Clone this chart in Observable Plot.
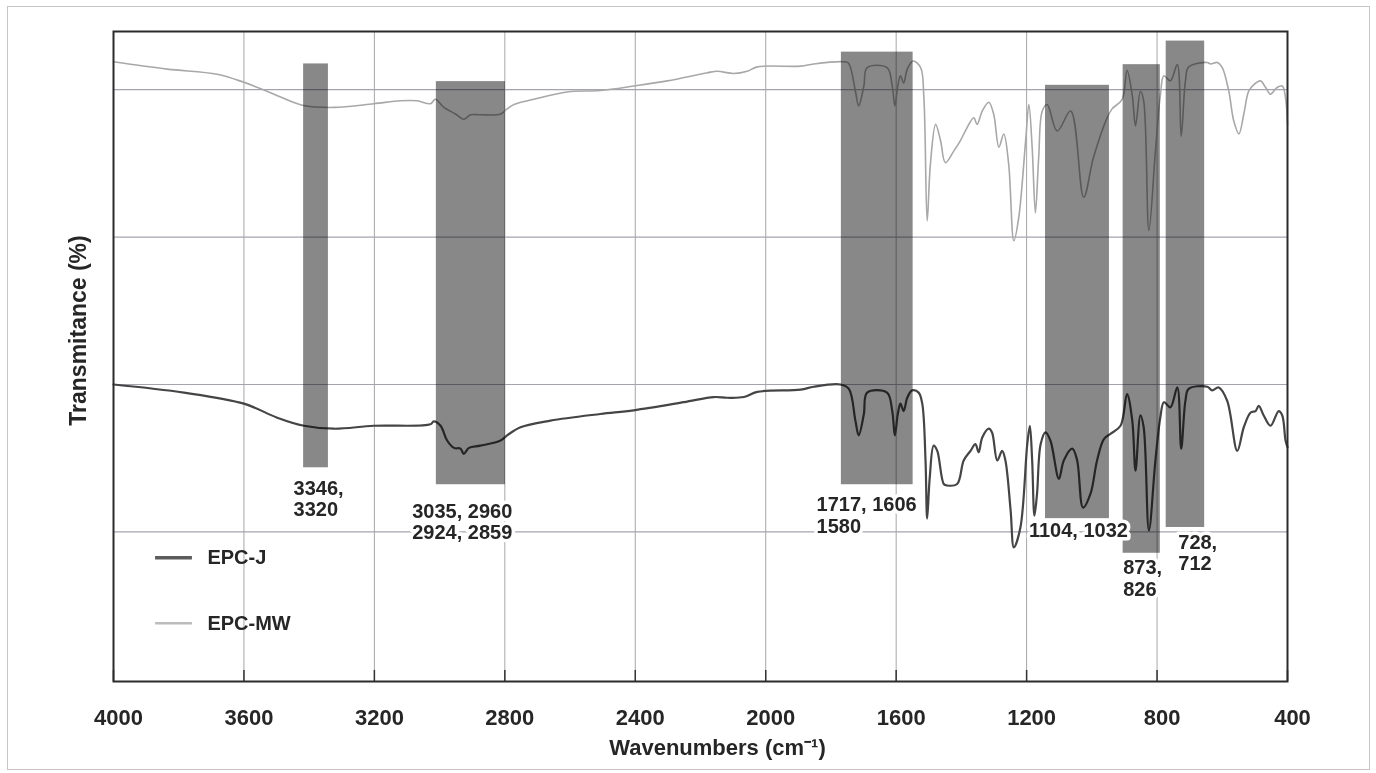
<!DOCTYPE html>
<html>
<head>
<meta charset="utf-8">
<script src="https://cdn.jsdelivr.net/npm/d3@7"></script>
<script src="https://cdn.jsdelivr.net/npm/@observablehq/plot@0.6"></script>
<style>
  html, body { margin: 0; padding: 0; background: #fff; }
  #wrap { position: relative; width: 1376px; height: 773px; overflow: hidden; }
  #wrap svg { position: absolute; left: 0; top: 0; }
  #border { position: absolute; left: 7px; top: 6px; width: 1361px; height: 762px;
            border: 1px solid #c6c6c6; pointer-events: none; z-index: 2; }
</style>
</head>
<body>
<div id="wrap"><div id="border"></div></div>
<script>
// FTIR spectra (wavenumber in cm-1, transmittance offset per sample)
const epcJWave = [4000, 3784, 3600, 3498, 3416, 3324, 3202, 3028, 3018, 2997, 2977, 2956, 2936, 2926, 2910, 2875, 2813, 2793, 2752, 2660, 2507, 2405, 2251, 2159, 2118, 2067, 2026, 1893, 1853, 1771, 1745, 1725, 1715, 1699, 1689, 1628, 1612, 1604, 1595, 1587, 1577, 1566, 1551, 1531, 1520, 1510, 1505, 1497, 1485, 1474, 1454, 1444, 1413, 1393, 1372, 1357, 1347, 1336, 1316, 1306, 1290, 1275, 1265, 1249, 1239, 1219, 1198, 1190, 1183, 1176, 1168, 1157, 1142, 1127, 1101, 1086, 1060, 1045, 1027, 1004, 984, 963, 943, 912, 892, 876, 866, 851, 841, 825, 805, 790, 779, 759, 738, 726, 713, 703, 646, 631, 611, 585, 554, 534, 513, 498, 488, 473, 452, 427, 416, 406, 400];
const epcJValue = [40.0, 38.9, 37.4, 35.5, 34.4, 34.0, 34.4, 34.6, 35.0, 34.4, 32.4, 31.4, 31.3, 30.6, 31.4, 31.7, 32.4, 33.1, 34.2, 35.1, 36.0, 36.5, 37.6, 38.3, 38.2, 38.3, 39.0, 39.3, 39.7, 40.0, 39.4, 35.1, 33.1, 36.0, 38.9, 38.9, 36.4, 33.1, 36.0, 37.4, 36.4, 38.2, 39.2, 38.9, 37.4, 29.7, 21.8, 27.4, 31.7, 31.0, 26.5, 26.3, 26.5, 29.7, 31.0, 31.9, 30.8, 32.8, 34.0, 33.5, 29.7, 31.0, 29.7, 22.9, 17.9, 20.6, 31.9, 34.4, 29.7, 22.2, 25.2, 31.9, 33.5, 32.4, 27.2, 29.7, 31.3, 29.7, 23.3, 25.2, 29.7, 32.6, 33.3, 34.4, 38.7, 35.1, 28.3, 35.8, 34.2, 20.2, 29.7, 35.5, 37.6, 36.9, 39.6, 31.3, 37.8, 39.4, 39.7, 39.2, 39.6, 37.8, 31.0, 34.2, 36.2, 36.4, 37.1, 35.8, 34.4, 36.4, 35.8, 32.4, 31.5];

const epcMWWave = [4000, 3835, 3682, 3600, 3519, 3421, 3324, 3202, 3120, 3069, 3028, 3013, 2987, 2951, 2926, 2905, 2875, 2813, 2793, 2772, 2711, 2609, 2507, 2405, 2302, 2179, 2149, 2098, 2057, 2026, 1893, 1853, 1761, 1746, 1725, 1715, 1699, 1689, 1628, 1612, 1604, 1595, 1587, 1577, 1566, 1548, 1525, 1515, 1505, 1495, 1479, 1464, 1449, 1423, 1403, 1382, 1362, 1352, 1336, 1316, 1301, 1285, 1270, 1255, 1239, 1224, 1203, 1193, 1183, 1173, 1163, 1152, 1137, 1106, 1065, 1025, 995, 953, 938, 907, 892, 876, 866, 851, 841, 825, 805, 790, 779, 759, 738, 726, 713, 703, 646, 636, 615, 600, 580, 565, 549, 534, 519, 503, 483, 467, 452, 432, 416, 406, 400];
const epcMWValue = [83.8, 82.8, 82.1, 81.0, 79.6, 77.9, 77.6, 78.1, 78.5, 78.5, 78.1, 78.7, 77.6, 76.7, 76.0, 76.6, 76.6, 76.7, 77.4, 78.0, 78.7, 79.7, 79.9, 80.5, 81.2, 82.3, 82.5, 82.2, 82.5, 83.1, 83.2, 83.5, 83.8, 83.6, 79.8, 77.8, 80.5, 83.0, 83.0, 80.5, 77.8, 80.5, 81.9, 80.9, 82.8, 83.9, 83.0, 78.9, 62.2, 69.9, 75.3, 73.1, 70.1, 71.7, 73.1, 74.9, 76.2, 75.3, 77.1, 78.3, 76.7, 72.2, 74.0, 69.9, 59.5, 62.7, 73.1, 78.0, 72.2, 63.3, 70.8, 77.1, 78.0, 74.4, 77.1, 65.4, 70.8, 76.2, 77.4, 78.7, 82.6, 79.2, 75.1, 79.8, 78.5, 60.9, 71.7, 79.2, 81.9, 81.2, 83.4, 73.7, 81.2, 83.1, 83.7, 83.5, 83.7, 83.0, 79.8, 75.8, 74.0, 76.7, 79.8, 80.7, 81.2, 80.3, 79.4, 80.3, 80.5, 78.9, 75.3];

// Shaded absorption bands
const bandFrom   = [3417, 3010, 1768, 1142, 904, 772];
const bandTo     = [3341, 2798, 1548, 946, 790, 654];
const bandTop    = [83.5, 81.1, 85.1, 80.6, 83.4, 86.6];
const bandBottom = [28.7, 26.4, 26.4, 21.8, 17.1, 20.6];

// Peak assignments written under the bands
const peakText  = ["3346,\n3320", "3035, 2960\n2924, 2859", "1717, 1606\n1580", "1104, 1032", "873,\n826", "728,\n712"];
const peakWave  = [3448, 3084, 1844, 1193, 904, 735];
const peakLevel = [24.5, 21.4, 22.3, 20.3, 13.7, 17.2];

// Axes and grid
const xTicks = [4000, 3600, 3200, 2800, 2400, 2000, 1600, 1200, 800, 400];
const yGrid = [20, 40, 60, 80];
const yDomain = [-0.3, 87.9];

// Legend
const legendNames = ["EPC-J", "EPC-MW"];
const legendLevel = [16.5, 7.6];
const legendSwatch = [3871, 3758];
const legendTextAt = 3712;

const toRows = (w, v) => w.map((x, i) => ({wave: x, t: v[i]}));
const jRows = toRows(epcJWave, epcJValue);
const mwRows = toRows(epcMWWave, epcMWValue);
const bands = bandFrom.map((a, i) => ({a, b: bandTo[i], lo: bandBottom[i], hi: bandTop[i]}));
const peaks = peakText.map((s, i) => ({s, w: peakWave[i], t: peakLevel[i]}));

const font = "'Liberation Sans', Arial, Helvetica, sans-serif";
const ink = "#262626";

const chart = Plot.plot({
  width: 1376,
  height: 773,
  marginLeft: 113,
  marginRight: 89,
  marginTop: 31,
  marginBottom: 92,
  x: {domain: [4000, 400]},
  y: {domain: yDomain, axis: null},
  style: {fontFamily: font, background: "transparent", overflow: "visible"},
  marks: [
    Plot.ruleX(xTicks.slice(1, -1), {stroke: "#a6a6a6", strokeWidth: 1}),
    Plot.ruleY(yGrid, {stroke: "#a4a4b0", strokeWidth: 1.2}),
    Plot.line(mwRows, {x: "wave", y: "t", stroke: "#a8a8a8", strokeWidth: 1.6, curve: "catmull-rom"}),
    Plot.line(jRows, {x: "wave", y: "t", stroke: "#454545", strokeWidth: 2.2, curve: "catmull-rom"}),
    Plot.rect(bands, {x1: "a", x2: "b", y1: "lo", y2: "hi", fill: "#888888", mixBlendMode: "multiply"}),
    Plot.ruleX(xTicks, {y1: yDomain[0], y2: 1.2, stroke: "#333", strokeWidth: 1.5}),
    Plot.frame({stroke: "#2b2b2b", strokeWidth: 2}),
    Plot.text(peaks, {
      x: "w", y: "t", text: "s", textAnchor: "start", lineAnchor: "middle", lineHeight: 1.08,
      fontSize: 20, fontWeight: "bold", fill: ink, stroke: "white", strokeWidth: 7, paintOrder: "stroke"
    }),
    Plot.ruleY([legendLevel[0]], {x1: legendSwatch[0], x2: legendSwatch[1], stroke: "#5c5c5c", strokeWidth: 3.5}),
    Plot.ruleY([legendLevel[1]], {x1: legendSwatch[0], x2: legendSwatch[1], stroke: "#bcbcbc", strokeWidth: 2.5}),
    Plot.text(legendNames, {
      x: legendTextAt, y: (d, i) => legendLevel[i], text: (d) => d, textAnchor: "start",
      fontSize: 20, fontWeight: "bold", fill: ink
    }),
    Plot.axisX(xTicks, {
      tickSize: 0, tickPadding: 28, tickFormat: (d) => String(d),
      fontSize: 22, fontWeight: "bold", fill: ink, label: null, dx: 5
    }),
    Plot.text(["Wavenumbers (cm\u207B\u00B9)"], {
      frameAnchor: "bottom", textAnchor: "middle", lineAnchor: "middle",
      dy: 66, dx: 17, fontSize: 22, fontWeight: "bold", fill: ink
    }),
    Plot.text(["Transmitance (%)"], {
      frameAnchor: "left", textAnchor: "middle", lineAnchor: "middle", rotate: -90,
      dx: -35, dy: -26, fontSize: 23, fontWeight: "bold", fill: ink
    })
  ]
});

document.getElementById("wrap").prepend(chart);
</script>
</body>
</html>
